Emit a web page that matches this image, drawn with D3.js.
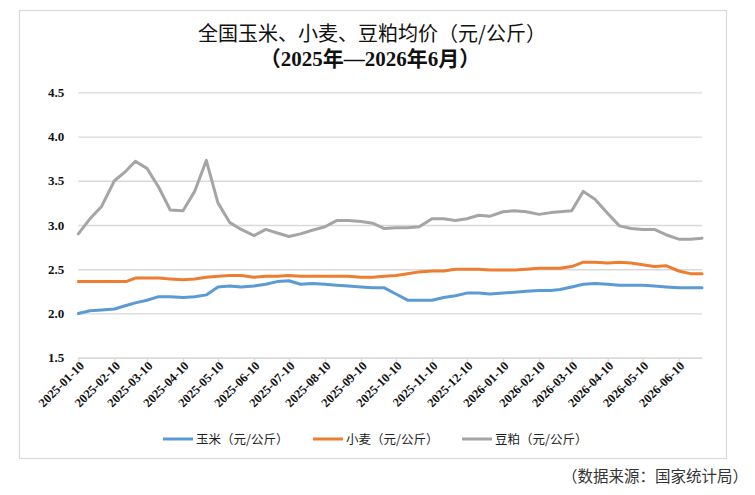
<!DOCTYPE html>
<html>
<head>
<meta charset="utf-8">
<script src="https://cdn.jsdelivr.net/npm/d3@7"></script>
<style>
	body { margin: 0; background: #fff; }
	svg { display: block; }
</style>
</head>
<body>
<div id="chart"></div>
<script>
// 旬度日期（上旬、中旬、下旬）
var dates = [
	"2025-01-10", "2025-01-20", "2025-01-30", "2025-02-10", "2025-02-20", "2025-02-28",
	"2025-03-10", "2025-03-20", "2025-03-30", "2025-04-10", "2025-04-20", "2025-04-30",
	"2025-05-10", "2025-05-20", "2025-05-30", "2025-06-10", "2025-06-20", "2025-06-30",
	"2025-07-10", "2025-07-20", "2025-07-30", "2025-08-10", "2025-08-20", "2025-08-30",
	"2025-09-10", "2025-09-20", "2025-09-30", "2025-10-10", "2025-10-20", "2025-10-30",
	"2025-11-10", "2025-11-20", "2025-11-30", "2025-12-10", "2025-12-20", "2025-12-30",
	"2026-01-10", "2026-01-20", "2026-01-30", "2026-02-10", "2026-02-20", "2026-02-28",
	"2026-03-10", "2026-03-20", "2026-03-30", "2026-04-10", "2026-04-20", "2026-04-30",
	"2026-05-10", "2026-05-20", "2026-05-30", "2026-06-10", "2026-06-20", "2026-06-30"
];

var corn = [
	2.00, 2.03, 2.04, 2.05, 2.09, 2.12, 2.15, 2.19, 2.19, 2.18, 2.19, 2.21,
	2.30, 2.31, 2.30, 2.31, 2.33, 2.36, 2.37, 2.33, 2.34, 2.33, 2.32, 2.31,
	2.30, 2.29, 2.29, 2.22, 2.15, 2.15, 2.15, 2.18, 2.20, 2.23, 2.23, 2.22,
	2.23, 2.24, 2.25, 2.26, 2.26, 2.27, 2.30, 2.33, 2.34, 2.33, 2.32, 2.32,
	2.32, 2.31, 2.30, 2.29, 2.29, 2.29
];

var wheat = [
	2.36, 2.36, 2.36, 2.36, 2.36, 2.40, 2.40, 2.40, 2.39, 2.38, 2.39, 2.41,
	2.42, 2.43, 2.43, 2.41, 2.42, 2.42, 2.43, 2.42, 2.42, 2.42, 2.42, 2.42,
	2.41, 2.41, 2.42, 2.43, 2.45, 2.47, 2.48, 2.48, 2.50, 2.50, 2.50, 2.49,
	2.49, 2.49, 2.50, 2.51, 2.51, 2.51, 2.53, 2.58, 2.58, 2.57, 2.58, 2.57,
	2.55, 2.53, 2.54, 2.48, 2.45, 2.45
];

var soymeal = [
	2.90, 3.07, 3.21, 3.50, 3.61, 3.72, 3.64, 3.43, 3.17, 3.16, 3.38, 3.73,
	3.25, 3.03, 2.95, 2.88, 2.95, 2.91, 2.87, 2.90, 2.94, 2.98, 3.05, 3.05,
	3.04, 3.02, 2.96, 2.97, 2.97, 2.98, 3.07, 3.07, 3.05, 3.07, 3.11, 3.10,
	3.15, 3.16, 3.15, 3.12, 3.14, 3.15, 3.16, 3.38, 3.29, 3.13, 2.99, 2.96,
	2.95, 2.95, 2.89, 2.84, 2.84, 2.85
];

var seriesNames = ["玉米（元/公斤）", "小麦（元/公斤）", "豆粕（元/公斤）"];
var colors = ["#5b9bd5", "#ed7d31", "#a5a5a5"];

var yTicks = [1.5, 2.0, 2.5, 3.0, 3.5, 4.0, 4.5];
var xTickDates = [
	"2025-01-10", "2025-02-10", "2025-03-10", "2025-04-10", "2025-05-10", "2025-06-10",
	"2025-07-10", "2025-08-10", "2025-09-10", "2025-10-10", "2025-11-10", "2025-12-10",
	"2026-01-10", "2026-02-10", "2026-03-10", "2026-04-10", "2026-05-10", "2026-06-10"
];

function init() {
	var w = 755;
	var h = 495;
	var left = 78.3, right = 702, top = 92.3, bottom = 357.7;

	var parse = d3.timeParse("%Y-%m-%d");
	var fmt = d3.timeFormat("%Y-%m-%d");
	var cnFont = "'Noto Sans CJK SC', sans-serif";
	var numFont = "'Liberation Serif', 'Times New Roman', 'Noto Sans CJK SC', serif";

	var xDates = dates.map(parse);
	var allSeries = [corn, wheat, soymeal].map(function(vals, i) {
		return {
			name: seriesNames[i],
			color: colors[i],
			values: vals.map(function(v, j) { return { date: xDates[j], value: v }; })
		};
	});

	var svg = d3.select("#chart")
		.append("svg")
		.attr("width", w)
		.attr("height", h);

	// outer frame
	svg.append("rect")
		.attr("x", 19.5)
		.attr("y", 10.5)
		.attr("width", 707)
		.attr("height", 448)
		.attr("fill", "#fff")
		.attr("stroke", "#d9d9d9")
		.attr("stroke-width", 1.2);

	var xScale = d3.scaleTime()
		.domain([parse("2025-01-10"), parse("2026-06-30")])
		.range([left, right]);

	var yScale = d3.scaleLinear()
		.domain([1.5, 4.5])
		.range([bottom, top]);

	// gridlines + y labels
	var yAxis = d3.axisLeft(yScale)
		.tickValues(yTicks)
		.tickSize(-(right - left))
		.tickPadding(14)
		.tickFormat(d3.format(".1f"));

	var gy = svg.append("g")
		.attr("transform", "translate(" + left + ",0)")
		.call(yAxis);
	gy.select(".domain").remove();
	gy.selectAll(".tick line")
		.attr("stroke", "#d9d9d9")
		.attr("stroke-width", 1.3);
	gy.selectAll(".tick text")
		.attr("font-family", numFont)
		.attr("font-weight", "bold")
		.attr("font-size", 13)
		.attr("fill", "#111");

	// x axis
	var xAxis = d3.axisBottom(xScale)
		.tickValues(xTickDates.map(parse))
		.tickSize(4)
		.tickSizeOuter(0)
		.tickFormat(fmt);

	var gx = svg.append("g")
		.attr("transform", "translate(0," + bottom + ")")
		.call(xAxis);
	gx.select(".domain")
		.attr("stroke", "#d9d9d9")
		.attr("stroke-width", 1.3);
	gx.selectAll(".tick line")
		.attr("stroke", "#d9d9d9")
		.attr("stroke-width", 1.3);
	gx.selectAll(".tick text")
		.attr("font-family", numFont)
		.attr("font-weight", "bold")
		.attr("font-size", 12.5)
		.attr("fill", "#111")
		.attr("text-anchor", "end")
		.attr("dy", null)
		.attr("y", 0)
		.attr("transform", "translate(6,9) rotate(-45)");

	// lines
	var line = d3.line()
		.x(function(d) { return xScale(d.date); })
		.y(function(d) { return yScale(d.value); });

	svg.selectAll(".series")
		.data(allSeries)
		.enter()
		.append("path")
		.attr("class", "series")
		.attr("d", function(d) { return line(d.values); })
		.attr("fill", "none")
		.attr("stroke", function(d) { return d.color; })
		.attr("stroke-width", 3)
		.attr("stroke-linejoin", "round")
		.attr("stroke-linecap", "round");

	// title
	svg.append("text")
		.attr("x", 372)
		.attr("y", 41)
		.attr("text-anchor", "middle")
		.attr("font-family", cnFont)
		.attr("font-size", 20)
		.attr("fill", "#111")
		.text("全国玉米、小麦、豆粕均价（元/公斤）");

	svg.append("text")
		.attr("x", 370)
		.attr("y", 66)
		.attr("text-anchor", "middle")
		.attr("font-family", numFont)
		.attr("font-weight", "bold")
		.attr("font-size", 21)
		.attr("fill", "#111")
		.text("（2025年—2026年6月）");

	// legend
	var legendX = [163, 313, 462];
	var lg = svg.selectAll(".legend")
		.data(allSeries)
		.enter()
		.append("g")
		.attr("class", "legend")
		.attr("transform", function(d, i) { return "translate(" + legendX[i] + ",439)"; });
	lg.append("line")
		.attr("x1", 0)
		.attr("x2", 30)
		.attr("stroke", function(d) { return d.color; })
		.attr("stroke-width", 3);
	lg.append("text")
		.attr("x", 33)
		.attr("y", 4.5)
		.attr("font-family", cnFont)
		.attr("font-size", 12.5)
		.attr("fill", "#222")
		.text(function(d) { return d.name; });

	// source note
	svg.append("text")
		.attr("x", 748)
		.attr("y", 482)
		.attr("text-anchor", "end")
		.attr("font-family", cnFont)
		.attr("font-size", 15.5)
		.attr("fill", "#333")
		.text("（数据来源：国家统计局）");
}

window.onload = init;
</script>
</body>
</html>
